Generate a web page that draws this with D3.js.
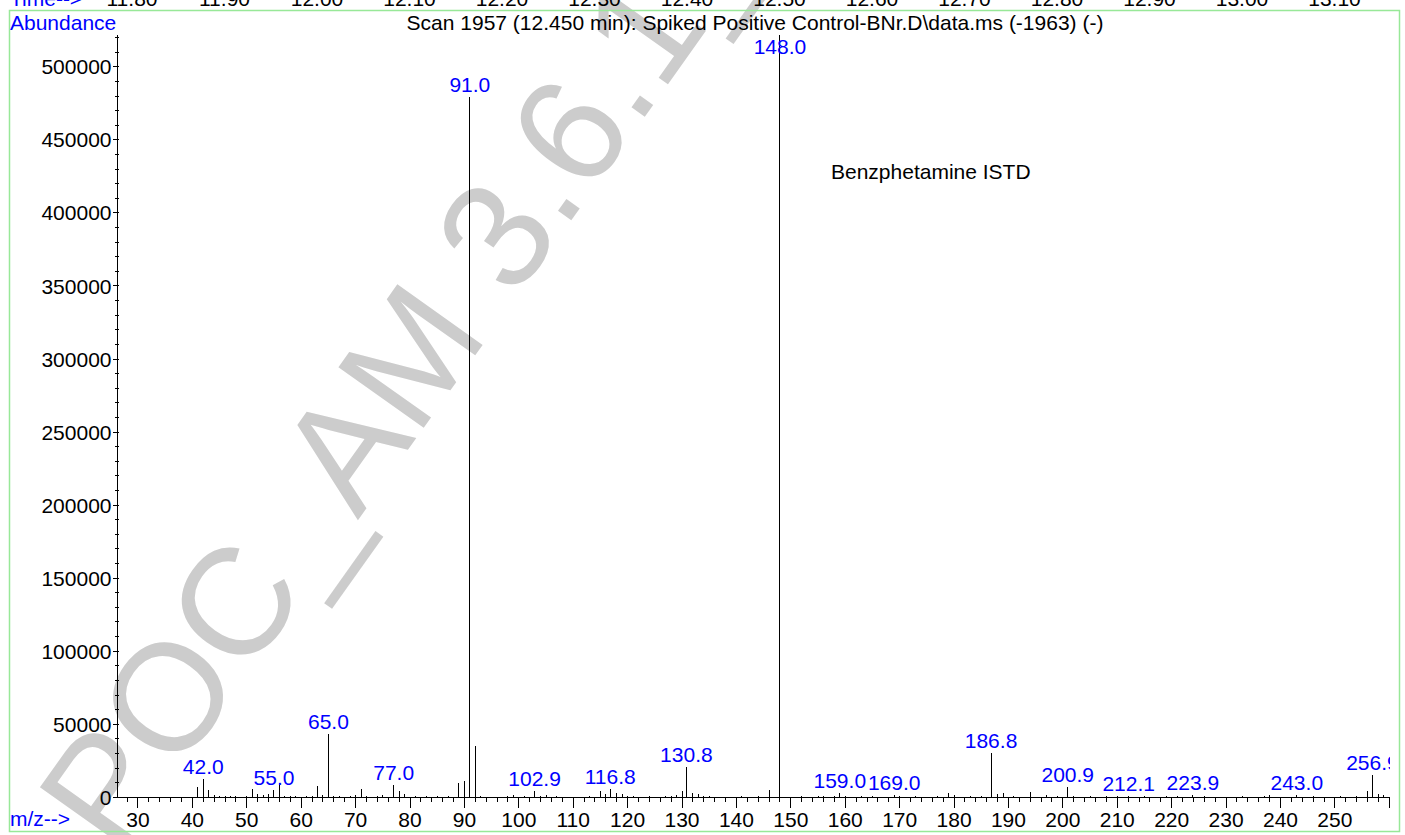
<!DOCTYPE html>
<html><head><meta charset="utf-8">
<script src="https://cdn.jsdelivr.net/npm/d3@7"></script>
<style>
body{margin:0;background:#fff;overflow:hidden;}
svg{display:block;}
text{font-family:"Liberation Sans",Arial,Helvetica,sans-serif;}
</style>
</head><body>
<svg id="chart" width="1405" height="835"></svg>
<script>
// ---- data ----
const mzValues = [41,42,43,44,45,46,47,48,50,51,52,53,54,55,56,57,58,59,61,62,63,64,65,66,67,69,70,71,72,74,75,77,78,79,81,83,85,87,89,90,91,92,93,98,99,101,102.9,104,105,107,113,115,116,116.8,118,119,120,121,124,127,128,129,130,130.8,132,133,134,135,141,144,146,148,152,155,156,158,159,160,163,165,169,170,173,177,179,180,183,185,186.8,188,189,191,194,197,199,200.9,202,205,208,210,212.1,215,219,221,223.9,226,233,237,238,243,246,251,254,256,256.9,258,259];
const abundances = [7200,12400,4700,1800,1000,700,600,600,800,5800,2500,1400,2300,5100,10000,700,1100,700,1000,1100,7600,1800,43100,900,600,1200,1500,5800,900,800,1700,8200,4600,2600,700,600,800,900,9500,11100,479200,35100,900,800,1500,800,4000,1100,1800,900,1200,4600,2300,5500,3000,2200,700,800,700,1000,1200,1500,4100,20500,3000,2000,700,1200,900,800,5200,521800,600,700,900,1100,2700,800,700,800,1800,700,800,1200,3200,1400,800,1000,30400,2000,2900,800,3600,1800,900,7200,1100,700,800,700,1000,700,600,700,1800,700,600,1000,1800,1500,700,600,900,4300,15600,2500,1500];
const labeledPeaks = [42.0,55.0,65.0,77.0,91.0,102.9,116.8,130.8,148.0,159.0,169.0,186.8,200.9,212.1,223.9,243.0,256.9];
const yTickValues = [0,50000,100000,150000,200000,250000,300000,350000,400000,450000,500000];
const xTickValues = [30,40,50,60,70,80,90,100,110,120,130,140,150,160,170,180,190,200,210,220,230,240,250];
const timeTickValues = [11.80,11.90,12.00,12.10,12.20,12.30,12.40,12.50,12.60,12.70,12.80,12.90,13.00,13.10];
const titleText = "Scan 1957 (12.450 min): Spiked Positive Control-BNr.D\\data.ms (-1963) (-)";
const annotationText = "Benzphetamine ISTD";
const watermarkText = "POC_AM 3.6.1_";

// ---- drawing ----
const svg = d3.select("#chart");
const FS = 21;
const BLUE = "#0000ff";
const GREEN = "#98e898";

const x = d3.scaleLinear().domain([26.2, 260]).range([117.3, 1389.3]);
const y = d3.scaleLinear().domain([0, 521800]).range([797.3, 35]);
const t = d3.scaleLinear().domain([11.8, 13.1]).range([132, 1334.5]);

// watermark (under everything)
svg.append("text")
  .attr("transform", "translate(118,858) rotate(-54.6)")
  .attr("font-size", 152)
  .attr("fill", "#cccccc")
  .text(watermarkText);

// top strip (previous panel's time axis, cut off)
svg.append("text").attr("x", 10).attr("y", 6).attr("font-size", FS).attr("fill", BLUE).text("Time-->");
svg.append("g").selectAll("text").data(timeTickValues).join("text")
  .attr("x", d => t(d)).attr("y", 6).attr("font-size", FS).attr("text-anchor", "middle").attr("fill", "#000")
  .text(d => d.toFixed(2));

// green frame
svg.append("rect").attr("x", 9.5).attr("y", 10.5).attr("width", 1390).attr("height", 821)
  .attr("fill", "none").attr("stroke", GREEN).attr("stroke-width", 1.5);

// titles
svg.append("text").attr("x", 10).attr("y", 29.5).attr("font-size", FS).attr("fill", BLUE).text("Abundance");
svg.append("text").attr("x", 755).attr("y", 29.5).attr("font-size", FS).attr("text-anchor", "middle").attr("fill", "#000").text(titleText);
svg.append("text").attr("x", 10).attr("y", 826).attr("font-size", FS).attr("fill", BLUE).text("m/z-->");
svg.append("text").attr("x", 831).attr("y", 179).attr("font-size", FS).attr("fill", "#000").text(annotationText);

// y axis
const yAxis = svg.append("g").attr("shape-rendering", "crispEdges");
yAxis.append("line").attr("x1", x.range()[0]).attr("x2", x.range()[0]).attr("y1", y.range()[1]).attr("y2", y.range()[0]).attr("stroke", "#000");
yAxis.selectAll("line.minor").data(d3.range(10000, 521000, 10000)).join("line").attr("class", "minor")
  .attr("x1", x.range()[0] - 2).attr("x2", x.range()[0] + 2)
  .attr("y1", d => y(d)).attr("y2", d => y(d)).attr("stroke", "#000");
yAxis.selectAll("line.major").data(yTickValues).join("line").attr("class", "major")
  .attr("x1", x.range()[0] - 4.5).attr("x2", x.range()[0])
  .attr("y1", d => y(d)).attr("y2", d => y(d)).attr("stroke", "#000");
svg.append("g").selectAll("text").data(yTickValues).join("text")
  .attr("x", 111.5).attr("y", d => y(d)).attr("dy", "0.36em")
  .attr("font-size", FS).attr("text-anchor", "end").attr("fill", "#000")
  .text(d => String(d));

// x axis
const xAxis = svg.append("g").attr("shape-rendering", "crispEdges");
xAxis.append("line").attr("x1", x.range()[0]).attr("x2", x.range()[1]).attr("y1", y(0)).attr("y2", y(0)).attr("stroke", "#000");
xAxis.selectAll("line.minor").data(d3.range(28, 261, 2).filter(v => v % 10 !== 0)).join("line").attr("class", "minor")
  .attr("x1", d => x(d)).attr("x2", d => x(d)).attr("y1", y(0)).attr("y2", y(0) + 5).attr("stroke", "#000");
xAxis.selectAll("line.major").data(xTickValues.concat([260])).join("line").attr("class", "major")
  .attr("x1", d => x(d)).attr("x2", d => x(d)).attr("y1", y(0)).attr("y2", y(0) + 11).attr("stroke", "#000");
svg.append("g").selectAll("text").data(xTickValues).join("text")
  .attr("x", d => x(d)).attr("y", 827).attr("font-size", FS).attr("text-anchor", "middle").attr("fill", "#000")
  .text(d => String(d));

// clip for spectrum
svg.append("clipPath").attr("id", "plotClip").append("rect")
  .attr("x", 117).attr("y", 0).attr("width", 1390 - 117).attr("height", 835);
const plot = svg.append("g").attr("clip-path", "url(#plotClip)");

const peaks = mzValues.map((m, i) => ({ mz: m, ab: abundances[i] }));
plot.append("g").attr("shape-rendering", "crispEdges").selectAll("line").data(peaks).join("line")
  .attr("x1", d => x(d.mz)).attr("x2", d => x(d.mz))
  .attr("y1", y(0)).attr("y2", d => y(d.ab))
  .attr("stroke", "#000").attr("stroke-width", 1);

const labelData = peaks.filter(p => labeledPeaks.includes(p.mz));
plot.append("g").selectAll("text").data(labelData).join("text")
  .attr("x", d => x(d.mz))
  .attr("y", d => Math.max(y(d.ab) - 5, 54))
  .attr("font-size", FS).attr("text-anchor", "middle").attr("fill", BLUE)
  .text(d => d.mz.toFixed(1));
</script>
</body></html>
